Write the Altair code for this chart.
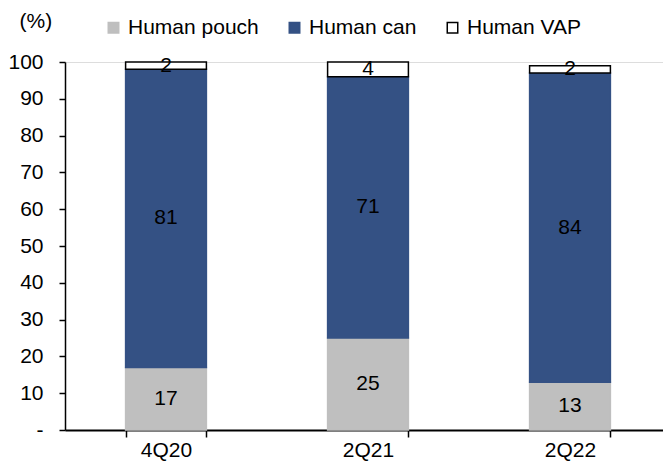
import altair as alt
import pandas as pd

quarters = ["4Q20", "2Q21", "2Q22"]
series = ["Human pouch", "Human can", "Human VAP"]
pouch = [17, 25, 13]
can = [81, 71, 84]
vap = [2, 4, 2]
colors = ["#BFBFBF", "#345184", "#FFFFFF"]
strokes = ["#BFBFBF", "#345184", "#000000"]
y_ticks = [0, 10, 20, 30, 40, 50, 60, 70, 80, 90, 100]

rows = []
for i, q in enumerate(quarters):
    for j, (s, vals) in enumerate(zip(series, [pouch, can, vap])):
        rows.append({"quarter": q, "series": s, "value": vals[i], "order": j})
df = pd.DataFrame(rows)

FONT = "Liberation Sans"
FS = 21

base = alt.Chart(df).transform_stack(
    stack="value", groupby=["quarter"], as_=["y0", "y1"], sort=[alt.SortField("order")]
).transform_calculate(mid="(datum.y0 + datum.y1) / 2")

xscale = alt.Scale(paddingInner=0.6, paddingOuter=0.3, range=[0, 606])
yscale = alt.Scale(domain=[0, 100], nice=False)

xaxis = alt.Axis(labelAngle=0, labelFontSize=FS, labelFont=FONT, labelColor="#000000",
                 labelPadding=2, tickBand="extent", tickSize=7, tickColor="#000000",
                 tickWidth=1.5, domainColor="#000000", domainWidth=2,
                 labelOverlap=False)
yaxis = alt.Axis(values=y_ticks, labelExpr="datum.value == 0 ? '-' : datum.label",
                 labelFontSize=FS, labelFont=FONT, labelColor="#000000",
                 labelPadding=16, tickSize=6, tickColor="#000000", tickWidth=1.5,
                 domainColor="#000000", domainWidth=1.5, grid=False,
                 labelOverlap=False,
                 titleAngle=0, titleFontSize=FS, titleFont=FONT,
                 titleFontWeight="normal", titleColor="#000000",
                 titleX=-46, titleY=-41, titleAlign="left", titleBaseline="middle")

bars = base.mark_bar(strokeWidth=1.5).encode(
    x=alt.X("quarter:N", sort=quarters, title=None, scale=xscale, axis=xaxis),
    y=alt.Y("y0:Q", scale=yscale, title="(%)", axis=yaxis),
    y2="y1:Q",
    color=alt.Color("series:N", sort=series,
                    scale=alt.Scale(domain=series, range=colors),
                    legend=alt.Legend(title=None, orient="none", direction="horizontal",
                                      legendX=38, legendY=-45, symbolType="square",
                                      symbolSize=110, symbolStrokeWidth=1.5,
                                      labelFontSize=FS, labelFont=FONT, labelColor="#000000",
                                      columnPadding=25, labelOffset=4, padding=0)),
    stroke=alt.Stroke("series:N", sort=series,
                      scale=alt.Scale(domain=series, range=strokes), legend=None),
    order=alt.Order("order:Q"),
)

labels = base.mark_text(fontSize=FS, font=FONT, color="#000000").encode(
    x=alt.X("quarter:N", sort=quarters, title=None, scale=xscale, axis=xaxis),
    y=alt.Y("mid:Q", scale=yscale, title="(%)", axis=yaxis),
    text=alt.Text("value:Q"),
)

chart = alt.layer(bars, labels).properties(
    width=598, height=368,
    autosize=alt.AutoSizeParams(type="none"),
    padding={"left": 57, "top": 54, "right": 0, "bottom": 33},
).configure_view(stroke=None).configure(background="#FFFFFF")

chart.save("out.html", embed_options={"renderer": "svg", "actions": False})
